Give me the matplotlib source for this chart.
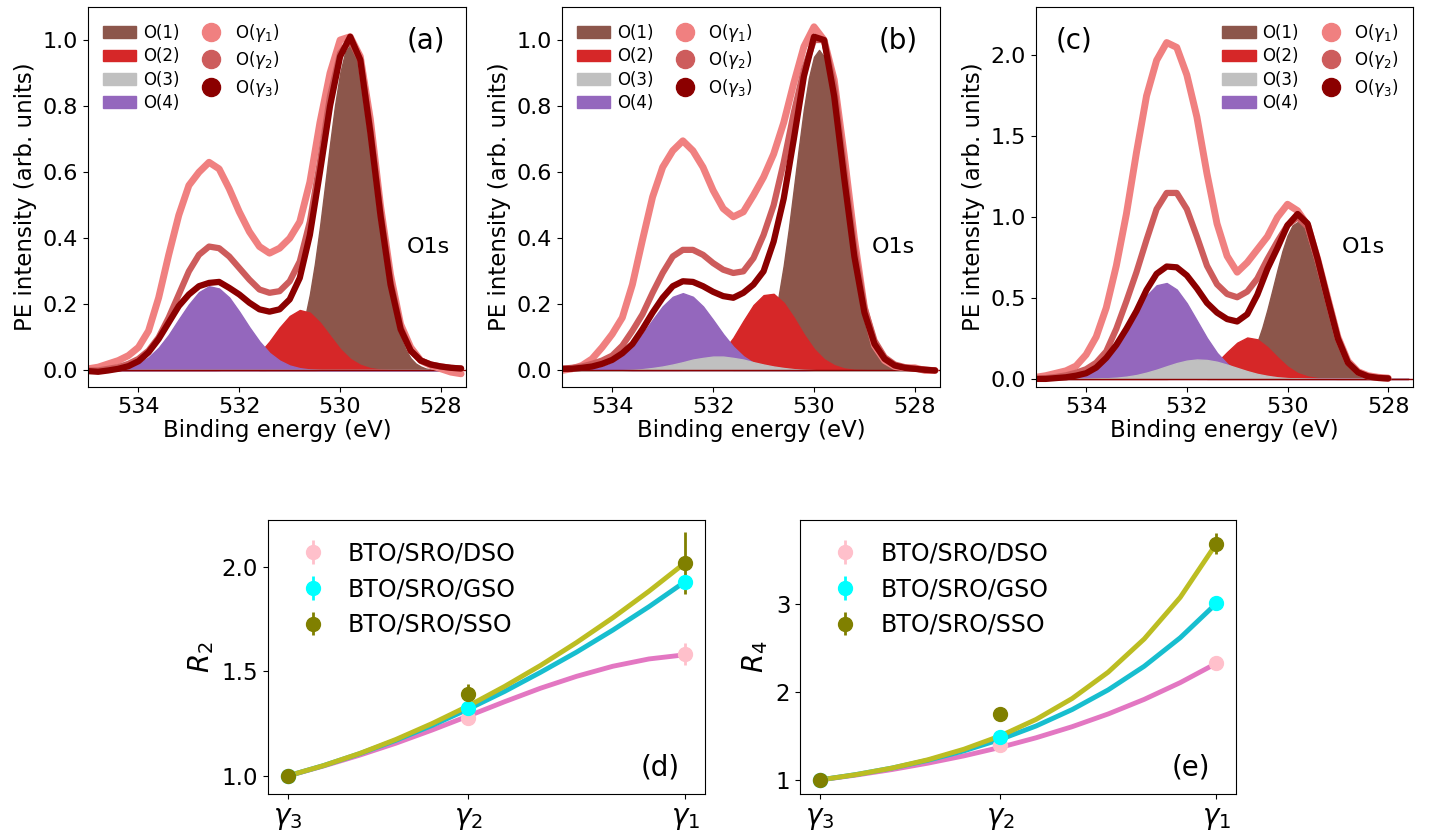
import numpy as np
import matplotlib
matplotlib.use("Agg")
import matplotlib.pyplot as plt
from matplotlib.patches import Patch
from matplotlib.lines import Line2D

# binding energy grid (eV), 0.2 eV steps
energy = [535.0, 534.8, 534.6, 534.4, 534.2, 534.0, 533.8, 533.6, 533.4, 533.2,
          533.0, 532.8, 532.6, 532.4, 532.2, 532.0, 531.8, 531.6, 531.4, 531.2,
          531.0, 530.8, 530.6, 530.4, 530.2, 530.0, 529.8, 529.6, 529.4, 529.2,
          529.0, 528.8, 528.6, 528.4, 528.2, 528.0, 527.8, 527.6]
# finer grid for the narrow O(1) peak
energy_o1 = [531.6, 531.5, 531.4, 531.3, 531.2, 531.1, 531.0, 530.9, 530.8, 530.7,
             530.6, 530.5, 530.4, 530.3, 530.2, 530.1, 530.0, 529.9, 529.8, 529.7,
             529.6, 529.5, 529.4, 529.3, 529.2, 529.1, 529.0, 528.9, 528.8, 528.7,
             528.6, 528.5, 528.4, 528.3, 528.2, 528.1, 528.0]
nan = np.nan

# ---- panel (a) ----
a_g1 = [0.005, 0.01, 0.02, 0.03, 0.045, 0.07, 0.12, 0.22, 0.35, 0.47,
        0.56, 0.60, 0.63, 0.61, 0.55, 0.48, 0.42, 0.375, 0.355, 0.37,
        0.40, 0.45, 0.57, 0.75, 0.90, 1.00, 1.01, 0.95, 0.76, 0.50,
        0.29, 0.14, 0.07, 0.03, 0.015, 0.005, -0.005, -0.01]
a_g2 = [0.0, 0.0, 0.005, 0.01, 0.02, 0.035, 0.06, 0.10, 0.16, 0.23,
        0.30, 0.35, 0.375, 0.37, 0.345, 0.31, 0.275, 0.245, 0.235, 0.24,
        0.27, 0.33, 0.45, 0.63, 0.83, 0.96, 1.00, 0.94, 0.73, 0.48,
        0.27, 0.13, 0.06, 0.03, 0.018, 0.012, 0.008, 0.006]
a_g3 = [-0.002, -0.004, 0.0, 0.005, 0.013, 0.028, 0.055, 0.095, 0.145, 0.195,
        0.23, 0.255, 0.265, 0.268, 0.25, 0.23, 0.205, 0.185, 0.178, 0.185,
        0.215, 0.28, 0.41, 0.60, 0.80, 0.95, 1.01, 0.94, 0.72, 0.47,
        0.26, 0.125, 0.06, 0.03, 0.018, 0.012, 0.008, 0.006]
a_o1 = [0.001, 0.001, 0.003, 0.006, 0.012, 0.021, 0.037, 0.063, 0.101, 0.157,
        0.230, 0.323, 0.434, 0.558, 0.685, 0.803, 0.899, 0.963, 0.985, 0.963,
        0.899, 0.803, 0.685, 0.558, 0.434, 0.323, 0.230, 0.157, 0.101, 0.063,
        0.037, 0.021, 0.012, 0.006, 0.003, 0.001, 0.001]
a_o2 = [0, 0, 0, 0, 0, 0, 0, 0, 0, 0,
        0, 0, 0, 0.0015, 0.0045, 0.012, 0.027, 0.052, 0.088, 0.13,
        0.165, 0.183, 0.175, 0.145, 0.105, 0.065, 0.035, 0.017, 0.007, 0.0025,
        0.001, 0, 0, 0, 0, 0, 0, 0]
a_o3 = [0] * 38
a_o4 = [0, 0, 0.002, 0.004, 0.010, 0.021, 0.040, 0.069, 0.108, 0.155,
        0.20, 0.237, 0.255, 0.248, 0.221, 0.178, 0.131, 0.088, 0.053, 0.030,
        0.015, 0.007, 0.003, 0.001, 0, 0, 0, 0, 0, 0,
        0, 0, 0, 0, 0, 0, 0, 0]

# ---- panel (b) ----
b_g1 = [0.0, 0.005, 0.015, 0.035, 0.07, 0.11, 0.16, 0.26, 0.395, 0.525,
        0.615, 0.665, 0.695, 0.665, 0.615, 0.545, 0.49, 0.465, 0.48, 0.53,
        0.585, 0.655, 0.75, 0.87, 0.98, 1.04, 1.00, 0.88, 0.65, 0.40,
        0.19, 0.075, 0.03, 0.012, 0.008, 0.008, 0.0, 0.0]
b_g2 = [0.005, 0.008, 0.012, 0.02, 0.03, 0.045, 0.075, 0.12, 0.17, 0.235,
        0.295, 0.345, 0.365, 0.365, 0.35, 0.325, 0.305, 0.295, 0.30, 0.34,
        0.41, 0.50, 0.63, 0.78, 0.91, 1.00, 1.00, 0.86, 0.61, 0.37,
        0.19, 0.09, 0.04, 0.018, 0.01, 0.005, 0.003, 0.0]
b_g3 = [0.005, 0.005, 0.008, 0.012, 0.02, 0.032, 0.052, 0.08, 0.125, 0.175,
        0.22, 0.255, 0.27, 0.268, 0.255, 0.238, 0.225, 0.22, 0.235, 0.26,
        0.30, 0.39, 0.52, 0.70, 0.89, 1.01, 1.00, 0.83, 0.58, 0.345,
        0.175, 0.08, 0.035, 0.015, 0.008, 0.005, 0.002, 0.0]
b_o1 = [0.001, 0.003, 0.006, 0.011, 0.021, 0.037, 0.062, 0.100, 0.154, 0.226,
        0.318, 0.428, 0.550, 0.674, 0.791, 0.886, 0.949, 0.97, 0.949, 0.886,
        0.791, 0.674, 0.550, 0.428, 0.318, 0.226, 0.154, 0.100, 0.062, 0.037,
        0.021, 0.011, 0.006, 0.003, 0.001, 0.001, 0.0]
b_o2 = [0, 0, 0, 0, 0, 0, 0, 0, 0, 0,
        0, 0, 0.002, 0.005, 0.013, 0.030, 0.058, 0.099, 0.150, 0.198,
        0.228, 0.232, 0.205, 0.160, 0.109, 0.065, 0.034, 0.016, 0.006, 0.002,
        0.001, 0, 0, 0, 0, 0, 0, 0]
b_o3 = [0, 0, 0, 0, 0, 0.0005, 0.001, 0.002, 0.004, 0.0075,
        0.012, 0.018, 0.025, 0.033, 0.038, 0.042, 0.042, 0.038, 0.033, 0.025,
        0.018, 0.012, 0.0075, 0.004, 0.002, 0.001, 0, 0, 0, 0,
        0, 0, 0, 0, 0, 0, 0, 0]
b_o4 = [0, 0, 0.002, 0.005, 0.011, 0.023, 0.043, 0.072, 0.110, 0.153,
        0.194, 0.223, 0.234, 0.223, 0.194, 0.153, 0.110, 0.072, 0.043, 0.023,
        0.011, 0.005, 0.002, 0, 0, 0, 0, 0, 0, 0,
        0, 0, 0, 0, 0, 0, 0, 0]

# ---- panel (c) ----
c_g1 = [0.01, 0.02, 0.035, 0.05, 0.08, 0.15, 0.26, 0.44, 0.70, 1.02,
        1.40, 1.75, 1.97, 2.08, 2.05, 1.88, 1.62, 1.27, 0.96, 0.76,
        0.66, 0.72, 0.80, 0.88, 1.00, 1.08, 1.04, 0.95, 0.74, 0.50,
        0.26, 0.11, 0.045, 0.02, 0.01, 0.005, nan, nan]
c_g2 = [0.0, 0.005, 0.012, 0.022, 0.038, 0.06, 0.10, 0.17, 0.31, 0.48,
        0.66, 0.86, 1.05, 1.15, 1.15, 1.05, 0.88, 0.70, 0.585, 0.525,
        0.505, 0.54, 0.62, 0.74, 0.85, 0.95, 1.00, 0.94, 0.73, 0.49,
        0.25, 0.10, 0.04, 0.015, 0.006, 0.003, nan, nan]
c_g3 = [0.0, 0.0, 0.005, 0.01, 0.02, 0.035, 0.07, 0.13, 0.21, 0.31,
        0.42, 0.55, 0.65, 0.695, 0.69, 0.64, 0.56, 0.47, 0.41, 0.37,
        0.355, 0.40, 0.52, 0.68, 0.81, 0.95, 1.02, 0.96, 0.74, 0.49,
        0.25, 0.10, 0.04, 0.015, 0.006, 0.003, nan, nan]
c_o1 = [0.001, 0.001, 0.003, 0.006, 0.011, 0.021, 0.037, 0.062, 0.100, 0.154,
        0.226, 0.318, 0.428, 0.550, 0.674, 0.791, 0.886, 0.949, 0.97, 0.949,
        0.886, 0.791, 0.674, 0.550, 0.428, 0.318, 0.226, 0.154, 0.100, 0.062,
        0.037, 0.021, 0.011, 0.006, 0.003, 0.001, 0.001]
c_o2 = [0, 0, 0, 0, 0, 0, 0, 0, 0, 0,
        0, 0, 0, 0, 0.003, 0.009, 0.024, 0.054, 0.103, 0.166,
        0.224, 0.256, 0.245, 0.197, 0.134, 0.076, 0.036, 0.015, 0.005, 0.0014,
        0, 0, 0, 0, 0, 0, 0, 0]
c_o3 = [0, 0, 0, 0, 0, 0.0007, 0.0016, 0.0037, 0.0074, 0.014,
        0.024, 0.039, 0.057, 0.078, 0.098, 0.113, 0.12, 0.117, 0.106, 0.088,
        0.068, 0.048, 0.031, 0.019, 0.010, 0.005, 0.0025, 0.001, 0, 0,
        0, 0, 0, 0, 0, 0, 0, 0]
c_o4 = [0, 0, 0.0025, 0.0066, 0.016, 0.035, 0.069, 0.124, 0.204, 0.306,
        0.416, 0.515, 0.579, 0.593, 0.553, 0.468, 0.361, 0.253, 0.161, 0.094,
        0.049, 0.024, 0.010, 0.004, 0.0015, 0, 0, 0, 0, 0,
        0, 0, 0, 0, 0, 0, 0, 0]

# ---- panels (d), (e) ----
gam_x = [0, 1, 2.2]
gam_labels = [r"$\gamma_3$", r"$\gamma_2$", r"$\gamma_1$"]
samples = ["BTO/SRO/DSO", "BTO/SRO/GSO", "BTO/SRO/SSO"]

d_vals = [[1.0, 1.279, 1.582], [1.0, 1.324, 1.93], [1.0, 1.392, 2.02]]
d_errs = [[0.01, 0.02, 0.053], [0.01, 0.02, 0.03], [0.01, 0.048, 0.147]]
e_vals = [[1.0, 1.40, 2.33], [1.0, 1.49, 3.01], [1.0, 1.75, 3.69]]
e_errs = [[0.01, 0.03, 0.03], [0.01, 0.03, 0.03], [0.01, 0.04, 0.12]]

fit_x = [0.0, 0.2, 0.4, 0.6, 0.8, 1.0, 1.2, 1.4, 1.6, 1.8, 2.0, 2.2]
d_fits = [[1.0, 1.048, 1.100, 1.157, 1.220, 1.287, 1.355, 1.420, 1.477, 1.525, 1.560, 1.58],
          [1.0, 1.050, 1.107, 1.171, 1.242, 1.320, 1.404, 1.496, 1.593, 1.698, 1.810, 1.930],
          [1.0, 1.050, 1.108, 1.175, 1.251, 1.335, 1.428, 1.529, 1.639, 1.757, 1.884, 2.020]]
e_fits = [[1.0, 1.055, 1.118, 1.191, 1.274, 1.370, 1.480, 1.606, 1.751, 1.917, 2.108, 2.327],
          [1.0, 1.061, 1.135, 1.224, 1.331, 1.460, 1.614, 1.801, 2.025, 2.294, 2.619, 3.009],
          [1.0, 1.060, 1.135, 1.230, 1.350, 1.500, 1.689, 1.927, 2.227, 2.605, 3.079, 3.690]]

comp_colors = ["tab:brown", "tab:red", "silver", "tab:purple"]
comp_labels = ["O(1)", "O(2)", "O(3)", "O(4)"]
data_colors = ["lightcoral", "indianred", "darkred"]
data_labels = [r"O($\gamma_1$)", r"O($\gamma_2$)", r"O($\gamma_3$)"]
pt_colors = ["pink", "cyan", "olive"]
fit_colors = ["tab:pink", "tab:cyan", "tab:olive"]


def draw_spectrum(ax, comps, data, ylim, yticks, tag, tag_x, o1s_x, leg_loc):
    # components: O(1), O(2), O(4), then O(3) on top
    ax.fill_between(energy_o1, 0, comps[0], color=comp_colors[0], lw=1)
    for i in [1, 3, 2]:
        ax.fill_between(energy, 0, comps[i], color=comp_colors[i], lw=1)
    ax.axhline(0, color="darkred", lw=1)
    widths = [5, 4.5, 4.5]
    for y, c, w in zip(data, data_colors, widths):
        ax.plot(energy, y, color=c, lw=w, solid_capstyle="round")
    ax.set_xlim(535, 527.5)
    ax.set_ylim(*ylim)
    ax.set_xticks([534, 532, 530, 528])
    ax.set_yticks(yticks)
    ax.tick_params(labelsize=16)
    ax.set_xlabel("Binding energy (eV)", fontsize=16.5, labelpad=2)
    ax.set_ylabel("PE intensity (arb. units)", fontsize=16.5, labelpad=4)
    ax.text(tag_x, 0.913, tag, transform=ax.transAxes, fontsize=20,
            ha="center", va="center")
    ax.text(o1s_x, 0.369, "O1s", transform=ax.transAxes, fontsize=16,
            ha="center", va="center")
    handles = [Patch(color=c) for c in comp_colors]
    handles += [Line2D([], [], ls="", marker="o", ms=13, color=c) for c in data_colors]
    ax.legend(handles, comp_labels + data_labels, loc=leg_loc, ncol=2,
              frameon=False, fontsize=12, labelspacing=0.32,
              handletextpad=0.4, columnspacing=0.9)


def draw_ratio(ax, vals, errs, fits, ylim, yticks, ylabel, tag):
    for f, c in zip(fits, fit_colors):
        ax.plot(fit_x, f, color=c, lw=3.5)
    for v, e, c, lab in zip(vals, errs, pt_colors, samples):
        ax.errorbar(gam_x, v, yerr=e, fmt="o", color=c, ms=10, elinewidth=2,
                    label=lab)
    ax.set_xlim(-0.11, 2.31)
    ax.set_ylim(*ylim)
    ax.set_xticks(gam_x)
    ax.set_xticklabels(gam_labels, fontsize=20)
    ax.set_yticks(yticks)
    ax.tick_params(axis="y", labelsize=16.5)
    ax.set_ylabel(ylabel, fontsize=20)
    ax.text(0.897, 0.095, tag, transform=ax.transAxes, fontsize=20,
            ha="center", va="center")
    ax.legend(loc="upper left", frameon=False, fontsize=17, handletextpad=0.5)


fig = plt.figure(figsize=(14.32, 8.4), dpi=100)

ax_a = fig.add_axes([0.0615, 0.5393, 0.2640, 0.4524])
ax_b = fig.add_axes([0.3923, 0.5393, 0.2642, 0.4524])
ax_c = fig.add_axes([0.7233, 0.5393, 0.2637, 0.4524])
ax_d = fig.add_axes([0.1869, 0.0548, 0.3054, 0.3262])
ax_e = fig.add_axes([0.5587, 0.0548, 0.3045, 0.3262])

draw_spectrum(ax_a, [a_o1, a_o2, a_o3, a_o4], [a_g1, a_g2, a_g3],
              (-0.05, 1.1), [0.0, 0.2, 0.4, 0.6, 0.8, 1.0], "(a)", 0.894, 0.899,
              "upper left")
draw_spectrum(ax_b, [b_o1, b_o2, b_o3, b_o4], [b_g1, b_g2, b_g3],
              (-0.05, 1.1), [0.0, 0.2, 0.4, 0.6, 0.8, 1.0], "(b)", 0.89, 0.876,
              "upper left")
draw_spectrum(ax_c, [c_o1, c_o2, c_o3, c_o4], [c_g1, c_g2, c_g3],
              (-0.05, 2.3), [0.0, 0.5, 1.0, 1.5, 2.0], "(c)", 0.101, 0.867,
              "upper right")

draw_ratio(ax_d, d_vals, d_errs, d_fits, (0.914, 2.225), [1.0, 1.5, 2.0],
           r"$R_2$", "(d)")
draw_ratio(ax_e, e_vals, e_errs, e_fits, (0.84, 3.96), [1, 2, 3],
           r"$R_4$", "(e)")

fig.savefig("out.png", dpi=100)
